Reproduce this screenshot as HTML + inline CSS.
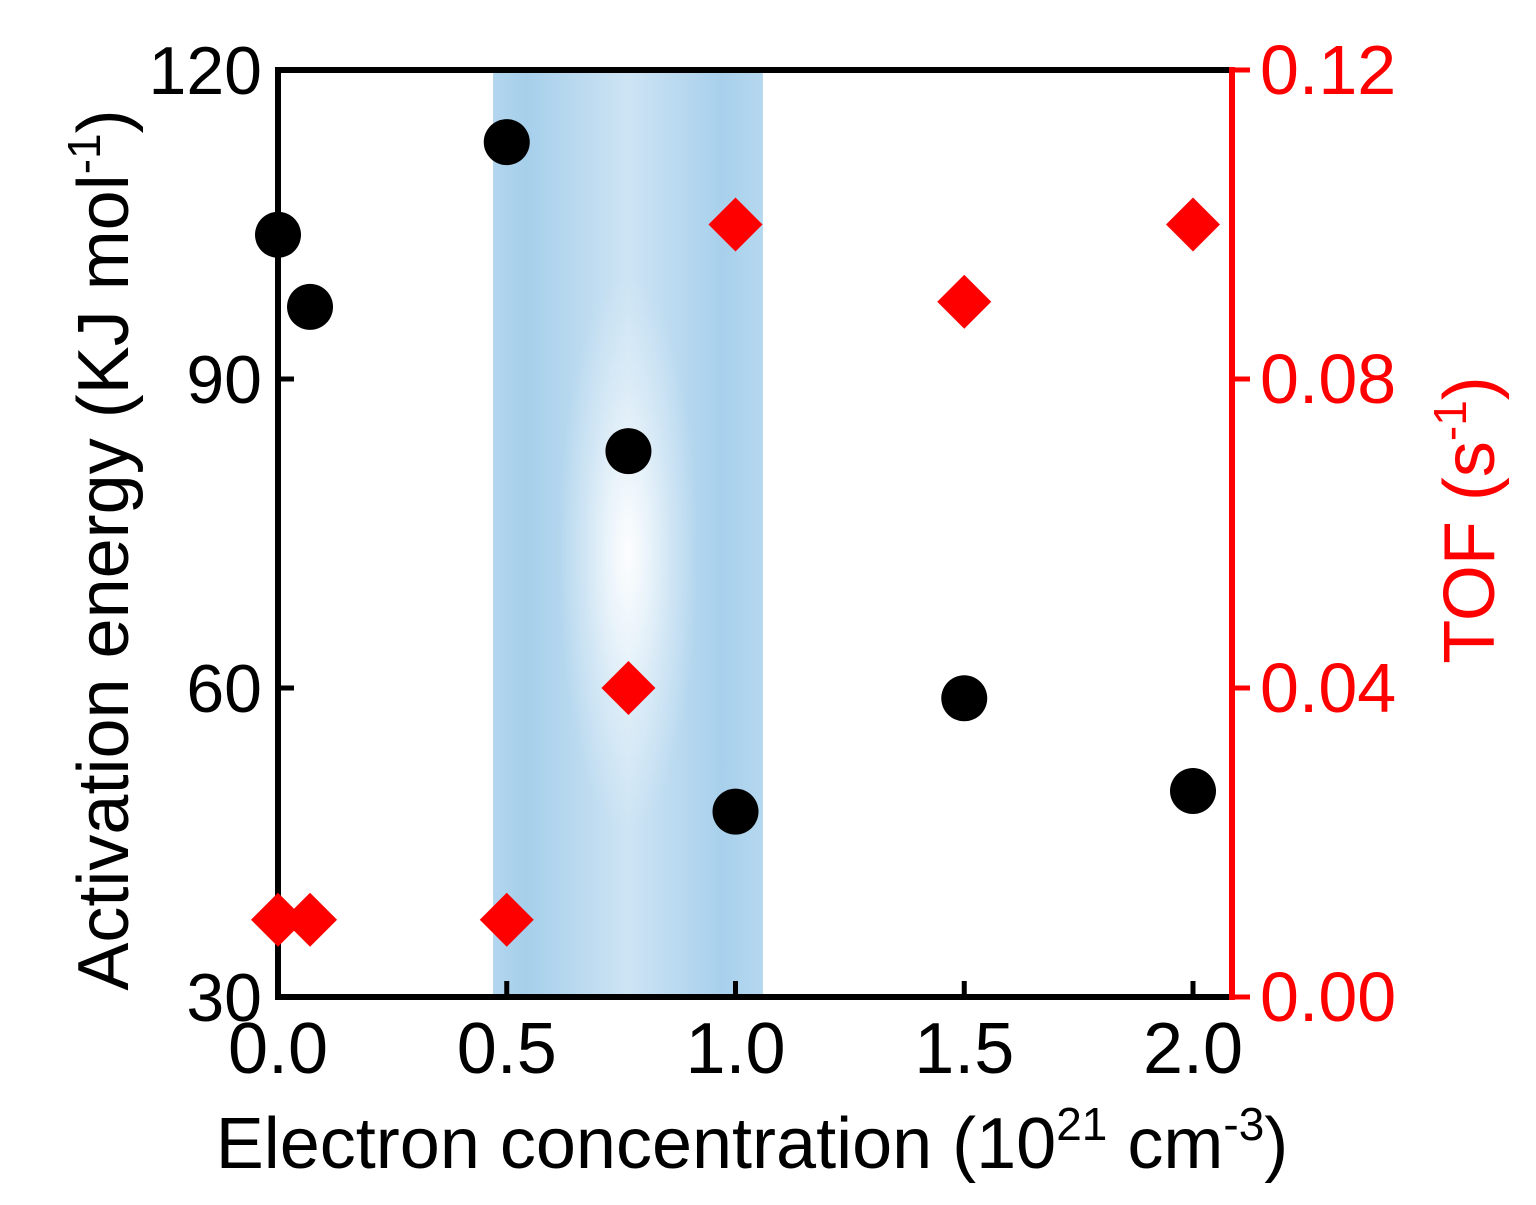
<!DOCTYPE html>
<html><head><meta charset="utf-8"><style>
html,body{margin:0;padding:0;background:#fff;width:1536px;height:1205px;overflow:hidden}
svg text{font-family:"Liberation Sans",sans-serif}
</style></head><body>
<svg id="chart" width="1536" height="1205" viewBox="0 0 1536 1205" xmlns="http://www.w3.org/2000/svg">
<defs>
<linearGradient id="bandH" x1="0" x2="1" y1="0" y2="0">
<stop offset="0" stop-color="#b3d6ee"/><stop offset="0.12" stop-color="#a6cfeb"/>
<stop offset="0.5" stop-color="#cde4f4"/><stop offset="0.85" stop-color="#a8d0ec"/><stop offset="1" stop-color="#b5d8ef"/>
</linearGradient>
<radialGradient id="bandR" cx="0.5" cy="0.5" r="0.5">
<stop offset="0" stop-color="#ffffff" stop-opacity="0.95"/><stop offset="0.6" stop-color="#ffffff" stop-opacity="0.3"/><stop offset="1" stop-color="#ffffff" stop-opacity="0"/>
</radialGradient>
</defs>
<g id="plot"></g>
</svg>
<script>
const xTicks=[0.0,0.5,1.0,1.5,2.0];
const xTickLabels=["0.0","0.5","1.0","1.5","2.0"];
const yLeftTicks=[30,60,90,120];
const yRightTicks=[0.00,0.04,0.08,0.12];
const yRightTickLabels=["0.00","0.04","0.08","0.12"];
const energyX=[0.0,0.07,0.5,0.766,1.0,1.5,2.0];
const energyY=[104,97,113,83,48,59,50];
const tofX=[0.0,0.07,0.5,0.766,1.0,1.5,2.0];
const tofY=[0.01,0.01,0.01,0.04,0.10,0.09,0.10];
const band=[0.47,1.06];

const L=278,R=1232,T=70,B=997;
const x0=278,xPer=457.5;
const sx=v=>x0+v*xPer;
const syL=v=>B-(v-30)/90*(B-T);
const syR=v=>B-v/0.12*(B-T);
const NS="http://www.w3.org/2000/svg";
const g=document.getElementById('plot');
function mk(tag,attrs,parent){const e=document.createElementNS(NS,tag);for(const k in attrs)e.setAttribute(k,attrs[k]);(parent||g).appendChild(e);return e;}

const bx=sx(band[0]),bw=sx(band[1])-sx(band[0]);
let e=mk('rect',{x:bx,y:T,width:bw,height:B-T,fill:'url(#bandH)'});


e=mk('ellipse',{cx:bx+bw*0.5,cy:(T+B)/2+20,rx:bw*0.26,ry:(B-T)*0.3,fill:'url(#bandR)'});



e=mk('path',{d:`M${R},${T} L${L},${T} L${L},${B} L${R},${B}`,fill:'none',stroke:'#000','stroke-width':6});


e=mk('line',{x1:R,y1:T-3,x2:R,y2:B+3,stroke:'#ff0000','stroke-width':6});



xTicks.forEach((v,i)=>{
 let t=mk('line',{x1:sx(v),y1:B,x2:sx(v),y2:B-16,stroke:'#000','stroke-width':5});
 
 
 t=mk('text',{x:sx(v),y:B+76,'font-size':72,'text-anchor':'middle',fill:'#000'});
 t.textContent=xTickLabels[i];
 
 
});
yLeftTicks.forEach(v=>{
 let t=mk('line',{x1:L,y1:syL(v),x2:L+16,y2:syL(v),stroke:'#000','stroke-width':5});
 
 
 t=mk('text',{x:L-16,y:syL(v)+24,'font-size':68,'text-anchor':'end',fill:'#000'});
 t.textContent=String(v);
 
 
});
yRightTicks.forEach((v,i)=>{
 let t=mk('line',{x1:R,y1:syR(v),x2:R+18,y2:syR(v),stroke:'#ff0000','stroke-width':5});
 
 
 t=mk('text',{x:R+28,y:syR(v)+24,'font-size':70,'text-anchor':'start',fill:'#ff0000'});
 t.textContent=yRightTickLabels[i];
 
 
});

energyX.forEach((v,i)=>{
 const c=mk('circle',{cx:sx(v),cy:syL(energyY[i]),r:23,fill:'#000'});
 
 
});
tofX.forEach((v,i)=>{
 const cx=sx(v),cy=syR(tofY[i]),s=27;
 const p=mk('polygon',{points:`${cx},${cy-s} ${cx+s},${cy} ${cx},${cy+s} ${cx-s},${cy}`,fill:'#ff0000'});
 
 
});

let t=mk('text',{x:752,y:1168,'font-size':72,'text-anchor':'middle',fill:'#000'});
t.innerHTML='Electron concentration (10<tspan dy="-28" font-size="46">21</tspan><tspan dy="28"> cm</tspan><tspan dy="-28" font-size="46">-3</tspan><tspan dy="28">)</tspan>';


t=mk('text',{x:0,y:0,'font-size':72,'text-anchor':'middle',fill:'#000',transform:'translate(128,550) rotate(-90)'});
t.innerHTML='Activation energy (KJ mol<tspan dy="-28" font-size="46">-1</tspan><tspan dy="28">)</tspan>';


t=mk('text',{x:0,y:0,'font-size':72,'text-anchor':'middle',fill:'#ff0000',transform:'translate(1494,520) rotate(-90)'});
t.innerHTML='TOF (s<tspan dy="-28" font-size="46">-1</tspan><tspan dy="28">)</tspan>';


</script>
</body></html>
